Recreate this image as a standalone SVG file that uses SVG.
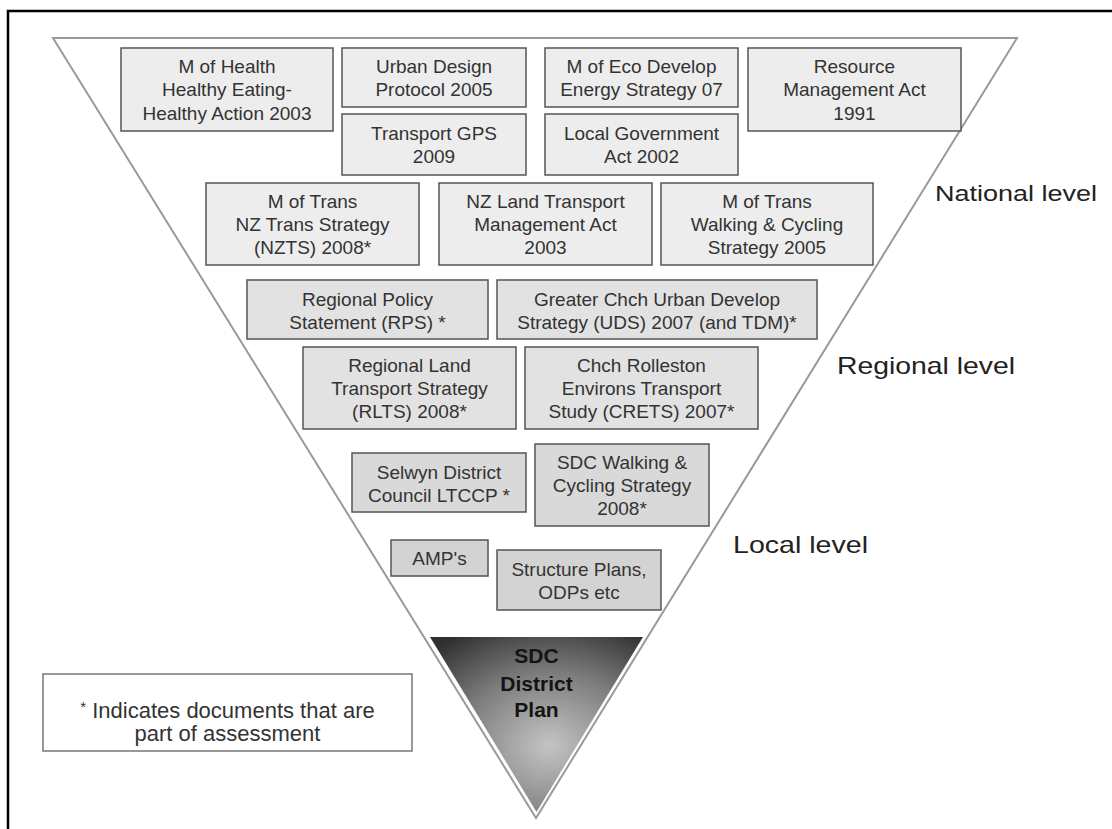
<svg xmlns="http://www.w3.org/2000/svg" width="1112" height="829" viewBox="0 0 1112 829">
<defs>
<radialGradient id="dark" cx="0.56" cy="0.64" r="0.78" fx="0.56" fy="0.62">
<stop offset="0" stop-color="#c4c4c4"/>
<stop offset="0.55" stop-color="#7c7c7c"/>
<stop offset="1" stop-color="#303030"/>
</radialGradient>
</defs>
<style>
.box{stroke:#555;stroke-width:1.5}
.nat{fill:#ededed}
.reg{fill:#e2e2e2}
.loc{fill:#d9d9d9}
.loc2{fill:#d3d3d3}
.t{font-family:"Liberation Sans",Arial,sans-serif;font-size:19px;fill:#333;text-anchor:middle}
.lvl{font-family:"Liberation Sans",Arial,sans-serif;fill:#222}
.leg{font-family:"Liberation Sans",Arial,sans-serif;font-size:22px;fill:#333;text-anchor:middle}
.sdc{font-family:"Liberation Sans",Arial,sans-serif;font-size:21px;font-weight:bold;fill:#141414;text-anchor:middle}
</style>
<rect width="1112" height="829" fill="#fff"/>
<path d="M8,829 V11 H1112" fill="none" stroke="#000" stroke-width="2.5"/>

<g id="pyramid">
<polygon points="53,38 1017,38 536,818" fill="#fff" stroke="#9a9a9a" stroke-width="2" stroke-linejoin="miter"/>
</g>

<g id="connectors"></g>

<g id="n-health"><rect class="box nat" x="121" y="48" width="212" height="83"/>
<text class="t" x="227" y="73">M of Health</text><text class="t" x="227" y="96.3">Healthy Eating-</text><text class="t" x="227" y="119.6">Healthy Action 2003</text></g>
<g id="n-urban"><rect class="box nat" x="342" y="48" width="184" height="59"/>
<text class="t" x="434" y="72.7">Urban Design</text><text class="t" x="434" y="96">Protocol 2005</text></g>
<g id="n-gps"><rect class="box nat" x="342" y="114" width="184" height="61"/>
<text class="t" x="434" y="139.7">Transport GPS</text><text class="t" x="434" y="163">2009</text></g>
<g id="n-eco"><rect class="box nat" x="545" y="48" width="193" height="59"/>
<text class="t" x="641.5" y="72.7">M of Eco Develop</text><text class="t" x="641.5" y="96">Energy Strategy 07</text></g>
<g id="n-lga"><rect class="box nat" x="545" y="114" width="193" height="61"/>
<text class="t" x="641.5" y="139.7">Local Government</text><text class="t" x="641.5" y="163">Act 2002</text></g>
<g id="n-rma"><rect class="box nat" x="748" y="48" width="213" height="83"/>
<text class="t" x="854.5" y="73">Resource</text><text class="t" x="854.5" y="96.3">Management Act</text><text class="t" x="854.5" y="119.6">1991</text></g>
<g id="n-nzts"><rect class="box nat" x="206" y="183" width="213" height="82"/>
<text class="t" x="312.5" y="207.8">M of Trans</text><text class="t" x="312.5" y="231.1">NZ Trans Strategy</text><text class="t" x="312.5" y="254.4">(NZTS) 2008*</text></g>
<g id="n-nzltma"><rect class="box nat" x="439" y="183" width="213" height="82"/>
<text class="t" x="545.5" y="207.8">NZ Land Transport</text><text class="t" x="545.5" y="231.1">Management Act</text><text class="t" x="545.5" y="254.4">2003</text></g>
<g id="n-walk"><rect class="box nat" x="661" y="183" width="212" height="82"/>
<text class="t" x="767" y="207.8">M of Trans</text><text class="t" x="767" y="231.1">Walking &amp; Cycling</text><text class="t" x="767" y="254.4">Strategy 2005</text></g>

<g id="n-rps"><rect class="box reg" x="247" y="280" width="241" height="59"/>
<text class="t" x="367.5" y="305.5">Regional Policy</text><text class="t" x="367.5" y="328.8">Statement (RPS) *</text></g>
<g id="n-uds"><rect class="box reg" x="497" y="280" width="320" height="59"/>
<text class="t" x="657" y="305.5">Greater Chch Urban Develop</text><text class="t" x="657" y="328.8">Strategy (UDS) 2007 (and TDM)*</text></g>
<g id="n-rlts"><rect class="box reg" x="303" y="347" width="213" height="82"/>
<text class="t" x="409.5" y="371.8">Regional Land</text><text class="t" x="409.5" y="395.1">Transport Strategy</text><text class="t" x="409.5" y="418.4">(RLTS) 2008*</text></g>
<g id="n-crets"><rect class="box reg" x="525" y="347" width="233" height="82"/>
<text class="t" x="641.5" y="371.8">Chch Rolleston</text><text class="t" x="641.5" y="395.1">Environs Transport</text><text class="t" x="641.5" y="418.4">Study (CRETS) 2007*</text></g>

<g id="n-ltccp"><rect class="box loc" x="352" y="453" width="174" height="59"/>
<text class="t" x="439" y="478.5">Selwyn District</text><text class="t" x="439" y="501.8">Council LTCCP *</text></g>
<g id="n-sdcwalk"><rect class="box loc" x="535" y="444" width="174" height="82"/>
<text class="t" x="622" y="468.8">SDC Walking &amp;</text><text class="t" x="622" y="492.1">Cycling Strategy</text><text class="t" x="622" y="515.4">2008*</text></g>
<g id="n-amp"><rect class="box loc2" x="391" y="540" width="97" height="36"/>
<text class="t" x="439.5" y="565">AMP's</text></g>
<g id="n-structure"><rect class="box loc2" x="497" y="550" width="164" height="60"/>
<text class="t" x="579" y="575.5">Structure Plans,</text><text class="t" x="579" y="598.8">ODPs etc</text></g>

<g id="n-district-plan">
<polygon points="430,637 643,637 536.5,812" fill="url(#dark)"/>
<text class="sdc" x="536.5" y="663">SDC</text>
<text class="sdc" x="536.5" y="691">District</text>
<text class="sdc" x="536.5" y="717">Plan</text>
</g>

<g id="levels">
<text class="lvl" x="935" y="201" font-size="22" textLength="162" lengthAdjust="spacingAndGlyphs">National level</text>
<text class="lvl" x="837" y="374" font-size="24" textLength="178" lengthAdjust="spacingAndGlyphs">Regional level</text>
<text class="lvl" x="733" y="553" font-size="24" textLength="135" lengthAdjust="spacingAndGlyphs">Local level</text>
</g>

<g id="legend">
<rect x="43" y="674" width="369" height="77" fill="#fff" stroke="#777" stroke-width="1.5"/>
<text class="leg" x="227.5" y="718"><tspan font-size="15" dy="-6">*</tspan><tspan dy="6"> Indicates documents that are</tspan></text>
<text class="leg" x="227.5" y="741">part of assessment</text>
</g>
</svg>
